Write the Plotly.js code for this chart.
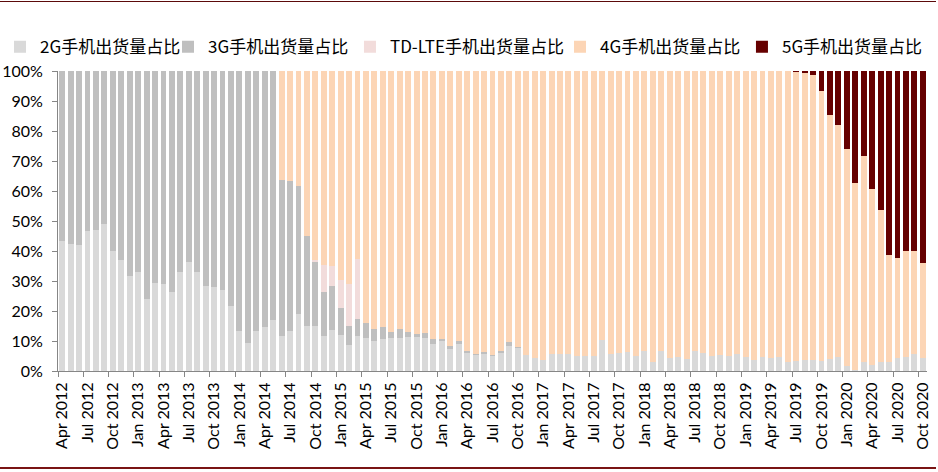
<!DOCTYPE html>
<html>
<head>
<meta charset="utf-8">
<script src="https://cdn.plot.ly/plotly-3.0.1.min.js"></script>
<style>
  body { margin: 0; background: #fff; }
  #wrap { position: relative; width: 938px; height: 472px; }
  #chart { width: 938px; height: 472px; }
  .rule { position: absolute; left: 0; width: 936px; background: #5c0a0a; }
</style>
</head>
<body>
<div id="wrap">
  <div id="chart"></div>
  <div class="rule" style="top:1px;height:1px;"></div>
  <div class="rule" style="top:467px;height:2px;background:#7a1414;"></div>
</div>
<script>
// month labels, Apr 2012 .. Oct 2020
var months = [
  "Apr 2012","May 2012","Jun 2012","Jul 2012","Aug 2012","Sep 2012","Oct 2012","Nov 2012","Dec 2012",
  "Jan 2013","Feb 2013","Mar 2013","Apr 2013","May 2013","Jun 2013","Jul 2013","Aug 2013","Sep 2013","Oct 2013","Nov 2013","Dec 2013",
  "Jan 2014","Feb 2014","Mar 2014","Apr 2014","May 2014","Jun 2014","Jul 2014","Aug 2014","Sep 2014","Oct 2014","Nov 2014","Dec 2014",
  "Jan 2015","Feb 2015","Mar 2015","Apr 2015","May 2015","Jun 2015","Jul 2015","Aug 2015","Sep 2015","Oct 2015","Nov 2015","Dec 2015",
  "Jan 2016","Feb 2016","Mar 2016","Apr 2016","May 2016","Jun 2016","Jul 2016","Aug 2016","Sep 2016","Oct 2016","Nov 2016","Dec 2016",
  "Jan 2017","Feb 2017","Mar 2017","Apr 2017","May 2017","Jun 2017","Jul 2017","Aug 2017","Sep 2017","Oct 2017","Nov 2017","Dec 2017",
  "Jan 2018","Feb 2018","Mar 2018","Apr 2018","May 2018","Jun 2018","Jul 2018","Aug 2018","Sep 2018","Oct 2018","Nov 2018","Dec 2018",
  "Jan 2019","Feb 2019","Mar 2019","Apr 2019","May 2019","Jun 2019","Jul 2019","Aug 2019","Sep 2019","Oct 2019","Nov 2019","Dec 2019",
  "Jan 2020","Feb 2020","Mar 2020","Apr 2020","May 2020","Jun 2020","Jul 2020","Aug 2020","Sep 2020","Oct 2020"
];

// shares in %, one value per month
var share_2g = [
  43.3,42.4,41.9,46.6,47.1,48.9,39.9,36.9,31.6,
  32.9,24.0,29.4,28.9,26.2,32.9,36.4,32.9,28.4,27.9,26.9,21.8,
  13.2,9.4,13.2,14.7,16.9,11.6,13.3,19.0,15.1,15.1,11.6,13.6,
  11.9,8.7,11.8,11.0,10.0,10.7,11.1,11.0,11.3,11.3,10.9,8.9,
  9.9,7.2,8.9,6.0,5.5,5.8,5.0,5.9,8.2,7.6,5.2,4.2,
  3.6,5.6,5.8,5.6,4.9,5.1,5.1,10.2,5.7,6.0,6.4,5.0,
  6.7,3.0,6.7,4.3,4.6,4.0,6.6,5.9,5.0,5.3,4.9,5.7,
  4.7,3.6,4.7,4.4,4.6,2.9,3.2,3.6,3.8,3.3,4.0,4.6,
  1.6,0.4,3.0,2.1,3.0,3.0,4.4,4.6,5.7,4.2
];
var share_3g = [
  56.7,57.6,58.1,53.4,52.9,51.1,60.1,63.1,68.4,
  67.1,76.0,70.6,71.1,73.8,67.1,63.6,67.1,71.6,72.1,73.1,78.2,
  86.8,90.6,86.8,85.3,83.1,52.0,50.0,42.7,29.9,21.2,14.7,14.6,
  9.0,6.2,5.4,4.9,4.0,3.9,1.8,2.9,1.6,0.9,1.7,1.9,
  0.7,1.0,1.0,0.6,0.3,0.4,0.3,0.7,1.5,0.3,0,0,
  0,0,0,0,0,0,0,0,0,0,0,0,
  0,0,0,0,0,0,0,0,0,0,0,0,
  0,0,0,0,0,0,0,0,0,0,0,0,
  0,0,0,0,0,0,0,0,0,0
];
var share_tdlte = [
  0,0,0,0,0,0,0,0,0,
  0,0,0,0,0,0,0,0,0,0,0,0,
  0,0,0,0,0,0,0,0,0,0.6,9.1,6.9,
  9.5,14.2,20.0,0,0,0,0,0,0,0,0,0,
  0,0,0,0,0,0,0,0,0,0,0,0,
  0,0,0,0,0,0,0,0,0,0,0,0,
  0,0,0,0,0,0,0,0,0,0,0,0,
  0,0,0,0,0,0,0,0,0,0,0,0,
  0,0,0,0,0,0,0,0,0,0
];
var share_4g = [
  0,0,0,0,0,0,0,0,0,
  0,0,0,0,0,0,0,0,0,0,0,0,
  0,0,0,0,0,36.4,36.7,38.3,55.0,63.1,64.6,64.9,
  69.6,70.9,62.8,84.1,86.0,85.4,87.1,86.1,87.1,87.8,87.4,89.2,
  89.4,91.8,90.1,93.4,94.2,93.8,94.7,93.4,90.3,92.1,94.8,95.8,
  96.4,94.4,94.2,94.4,95.1,94.9,94.9,89.8,94.3,94.0,93.6,95.0,
  93.3,97.0,93.3,95.7,95.4,96.0,93.4,94.1,95.0,94.7,95.1,94.3,
  95.3,96.4,95.3,95.6,95.4,97.1,96.6,95.7,95.0,89.9,81.4,77.5,
  72.3,62.3,68.6,58.7,50.7,35.8,33.2,35.4,34.4,31.8
];
var share_5g = [
  0,0,0,0,0,0,0,0,0,
  0,0,0,0,0,0,0,0,0,0,0,0,
  0,0,0,0,0,0,0,0,0,0,0,0,
  0,0,0,0,0,0,0,0,0,0,0,0,
  0,0,0,0,0,0,0,0,0,0,0,0,
  0,0,0,0,0,0,0,0,0,0,0,0,
  0,0,0,0,0,0,0,0,0,0,0,0,
  0,0,0,0,0,0,0.2,0.7,1.2,6.8,14.6,17.9,
  26.1,37.3,28.4,39.2,46.3,61.2,62.4,60.0,59.9,64.0
];

var series_names = ["2G手机出货量占比", "3G手机出货量占比", "TD-LTE手机出货量占比", "4G手机出货量占比", "5G手机出货量占比"];
var series_colors = ["#d9d9d9", "#bfbfbf", "#f2dcdb", "#fcd5b5", "#660000"];
var series_values = [share_2g, share_3g, share_tdlte, share_4g, share_5g];

// one legend per series so each entry sits where the original has it
var legend_ids = ["legend", "legend2", "legend3", "legend4", "legend5"];
var legend_x = [-0.0139, 0.1791, 0.3731, 0.5970, 0.7910];

var data = [];
for (var i = 0; i < series_values.length; i++) {
    data.push({
        type: 'bar',
        x: months,
        y: series_values[i],
        name: series_names[i],
        legend: legend_ids[i],
        marker: { color: series_colors[i], line: { width: 0 } },
        hoverinfo: 'x+y+name'
    });
}

var axis_font = { family: 'Lato, "Noto Sans CJK SC", sans-serif', size: 16, color: '#000' };

var layout = {
    width: 938,
    height: 472,
    margin: { l: 58, r: 11, t: 71, b: 101, pad: 0, autoexpand: false },
    paper_bgcolor: '#fff',
    plot_bgcolor: '#fff',
    barmode: 'stack',
    bargap: 0.3,
    showlegend: true,
    xaxis: {
        type: 'category',
        range: [-0.5, 102.5],
        tickmode: 'linear',
        tick0: 0,
        dtick: 3,
        tickson: 'boundaries',
        ticks: 'outside',
        ticklen: 5,
        tickcolor: '#868686',
        tickangle: -90,
        ticklabelstandoff: 4,
        tickfont: axis_font,
        showline: true,
        linecolor: '#868686',
        linewidth: 1,
        showgrid: false,
        zeroline: false,
        automargin: false
    },
    yaxis: {
        range: [0, 100],
        tickvals: [0, 10, 20, 30, 40, 50, 60, 70, 80, 90, 100],
        ticktext: ["0%", "10%", "20%", "30%", "40%", "50%", "60%", "70%", "80%", "90%", "100%"],
        ticks: 'outside',
        ticklen: 5,
        tickcolor: '#868686',
        ticklabelstandoff: 6,
        tickfont: axis_font,
        showline: true,
        linecolor: '#868686',
        linewidth: 1,
        showgrid: false,
        zeroline: false,
        automargin: false
    }
};

for (var j = 0; j < legend_ids.length; j++) {
    layout[legend_ids[j]] = {
        orientation: 'h',
        xref: 'container',
        yref: 'container',
        x: legend_x[j],
        xanchor: 'left',
        y: 0.9,
        yanchor: 'middle',
        bgcolor: 'rgba(0,0,0,0)',
        font: { family: '"Noto Sans CJK SC", sans-serif', size: 17, color: '#000' },
        itemclick: false
    };
}

Plotly.newPlot('chart', data, layout, { displayModeBar: false, staticPlot: true });
</script>
</body>
</html>
